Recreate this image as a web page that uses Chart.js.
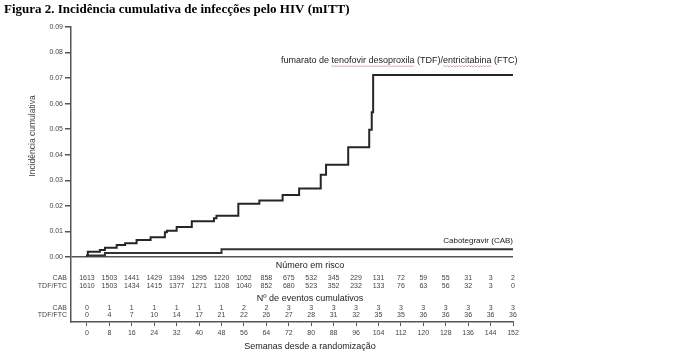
<!DOCTYPE html>
<html>
<head>
<meta charset="utf-8">
<script src="https://cdn.jsdelivr.net/npm/chart.js@4.4.1/dist/chart.umd.min.js"></script>
<style>
    html, body { margin: 0; padding: 0; background: #fff; }
    #wrap { width: 698px; height: 362px; }
</style>
</head>
<body>
<div id="wrap"><canvas id="chart" width="698" height="362"></canvas></div>
<script>
// Kaplan-Meier steps (weeks, cumulative incidence)
const tdfWeeks  = [0.3, 4.6, 6.4, 10.6, 13.6, 17.7, 22.7, 27.8, 28.5, 32, 37.4, 45.3, 46.2, 54, 61.5, 69.8, 75.7, 83.4, 85.3, 93.2, 100.7, 101.6, 102.1, 118.4, 152];
const tdfValues = [0.0006, 0.0021, 0.0027, 0.0036, 0.0047, 0.0054, 0.0067, 0.0077, 0.0097, 0.0103, 0.0117, 0.0140, 0.0152, 0.0161, 0.0208, 0.0221, 0.0243, 0.0268, 0.0322, 0.0361, 0.0429, 0.0498, 0.0566, 0.0712, 0.0712];
const cabWeeks  = [0, 6.4, 48.0, 66.5, 152];
const cabValues = [0, 0.0006, 0.0016, 0.0030, 0.0030];

// Tables under the plot
const tableWeeks = [0, 8, 16, 24, 32, 40, 48, 56, 64, 72, 80, 88, 96, 104, 112, 120, 128, 136, 144, 152];
const cabAtRisk  = [1613, 1503, 1441, 1429, 1394, 1295, 1220, 1052, 858, 675, 532, 345, 229, 131, 72, 59, 55, 31, 3, 2];
const tdfAtRisk  = [1610, 1503, 1434, 1415, 1377, 1271, 1108, 1040, 852, 680, 523, 352, 232, 133, 76, 63, 56, 32, 3, 0];
const cabEvents  = [0, 1, 1, 1, 1, 1, 1, 2, 2, 3, 3, 3, 3, 3, 3, 3, 3, 3, 3, 3];
const tdfEvents  = [0, 4, 7, 10, 14, 17, 21, 22, 26, 27, 28, 31, 32, 35, 35, 36, 36, 36, 36, 36];
const yTickValues = [0, 0.01, 0.02, 0.03, 0.04, 0.05, 0.06, 0.07, 0.08, 0.09];

const titleText = 'Figura 2. Incidência cumulativa de infecções pelo HIV (mITT)';
const tdfLabel = 'fumarato de tenofovir desoproxila (TDF)/entricitabina (FTC)';
const cabLabel = 'Cabotegravir (CAB)';

const SANS = '"Liberation Sans", Arial, sans-serif';
const GREY = '#444';

function toPoints(xs, ys) {
    return xs.map((w, i) => ({ x: w, y: ys[i] }));
}

function wavy(ctx, x1, x2, y) {
    ctx.beginPath();
    ctx.moveTo(x1, y);
    let up = true;
    for (let x = x1 + 1.5; x <= x2; x += 1.5) {
        ctx.lineTo(x, up ? y - 1 : y + 0.5);
        up = !up;
    }
    ctx.stroke();
}

const annotations = {
    id: 'annotations',
    afterDraw(chart) {
        const ctx = chart.ctx;
        const xs = chart.scales.x;
        const cx = 310;
        ctx.save();
        ctx.textBaseline = 'middle';

        // heading
        ctx.fillStyle = '#000';
        ctx.font = 'bold 13px "Liberation Serif", serif';
        ctx.textAlign = 'left';
        ctx.fillText(titleText, 4, 10);

        // y axis title
        ctx.save();
        ctx.translate(33, 136);
        ctx.rotate(-Math.PI / 2);
        ctx.textAlign = 'center';
        ctx.fillStyle = GREY;
        ctx.font = '8.5px ' + SANS;
        ctx.fillText('Incidência cumulativa', 0, 0);
        ctx.restore();

        // series labels
        ctx.font = '9px ' + SANS;
        ctx.fillStyle = '#222';
        ctx.textAlign = 'left';
        const lx = 281, ly = 61;
        ctx.fillText(tdfLabel, lx, ly);
        ctx.strokeStyle = '#d98a8a';
        ctx.lineWidth = 0.8;
        const w0 = ctx.measureText('fumarato de ').width;
        const w1 = ctx.measureText('fumarato de tenofovir desoproxila').width;
        const w2 = ctx.measureText('fumarato de tenofovir desoproxila (TDF)/').width;
        const w3 = ctx.measureText('fumarato de tenofovir desoproxila (TDF)/entricitabina').width;
        wavy(ctx, lx + w0, lx + w1, ly + 5.5);
        wavy(ctx, lx + w2, lx + w3, ly + 5.5);
        ctx.font = '8px ' + SANS;
        ctx.textAlign = 'right';
        ctx.fillText(cabLabel, 513, 241);

        // table headings
        ctx.textAlign = 'center';
        ctx.fillStyle = '#222';
        ctx.font = '9px ' + SANS;
        ctx.fillText('Número em risco', cx, 265.5);
        ctx.fillText('Nº de eventos cumulativos', cx, 299);
        ctx.fillText('Semanas desde a randomização', cx, 347);

        // row labels
        ctx.font = '7px ' + SANS;
        ctx.fillStyle = GREY;
        ctx.textAlign = 'right';
        ctx.fillText('CAB', 67, 278.5);
        ctx.fillText('TDF/FTC', 67, 286.5);
        ctx.fillText('CAB', 67, 308);
        ctx.fillText('TDF/FTC', 67, 315.5);

        // numbers
        ctx.textAlign = 'center';
        tableWeeks.forEach((w, i) => {
            const px = xs.getPixelForValue(w);
            ctx.fillText(String(cabAtRisk[i]), px, 278.5);
            ctx.fillText(String(tdfAtRisk[i]), px, 286.5);
            ctx.fillText(String(cabEvents[i]), px, 308);
            ctx.fillText(String(tdfEvents[i]), px, 315.5);
        });
        ctx.restore();
    }
};

new Chart(document.getElementById('chart'), {
    type: 'line',
    data: {
        datasets: [
            {
                label: 'TDF/FTC',
                data: toPoints(tdfWeeks, tdfValues),
                borderColor: '#262626',
                borderWidth: 2,
                stepped: 'after',
                pointRadius: 0,
                fill: false
            },
            {
                label: 'CAB',
                data: toPoints(cabWeeks, cabValues),
                borderColor: '#333',
                borderWidth: 2,
                stepped: 'after',
                pointRadius: 0,
                fill: false
            }
        ]
    },
    options: {
        responsive: false,
        animation: false,
        layout: { padding: { top: 27, right: 185, bottom: 0, left: 0 } },
        plugins: {
            legend: { display: false },
            tooltip: { enabled: false }
        },
        scales: {
            x: {
                type: 'linear',
                min: -5.7,
                max: 152,
                afterBuildTicks: scale => { scale.ticks = tableWeeks.map(v => ({ value: v })); },
                afterFit: scale => { scale.height = 40; },
                grid: { drawOnChartArea: false, drawTicks: true, tickLength: 4, color: '#555' },
                border: { color: '#555', width: 1.5 },
                ticks: { color: GREY, font: { family: SANS, size: 7 }, padding: 3, maxRotation: 0 }
            },
            y: {
                min: -0.02543,
                max: 0.09,
                afterBuildTicks: scale => { scale.ticks = yTickValues.map(v => ({ value: v })); },
                afterFit: scale => { scale.width = 71; },
                grid: {
                    drawTicks: true,
                    tickLength: 6,
                    color: c => (c.tick && c.tick.value === 0 ? '#555' : 'rgba(0,0,0,0)'),
                    tickColor: '#555',
                    lineWidth: 1.5
                },
                border: { color: '#555', width: 1.5 },
                ticks: {
                    color: GREY,
                    font: { family: SANS, size: 7 },
                    padding: 2,
                    callback: v => Number(v).toFixed(2)
                }
            }
        }
    },
    plugins: [annotations]
});
</script>
</body>
</html>
